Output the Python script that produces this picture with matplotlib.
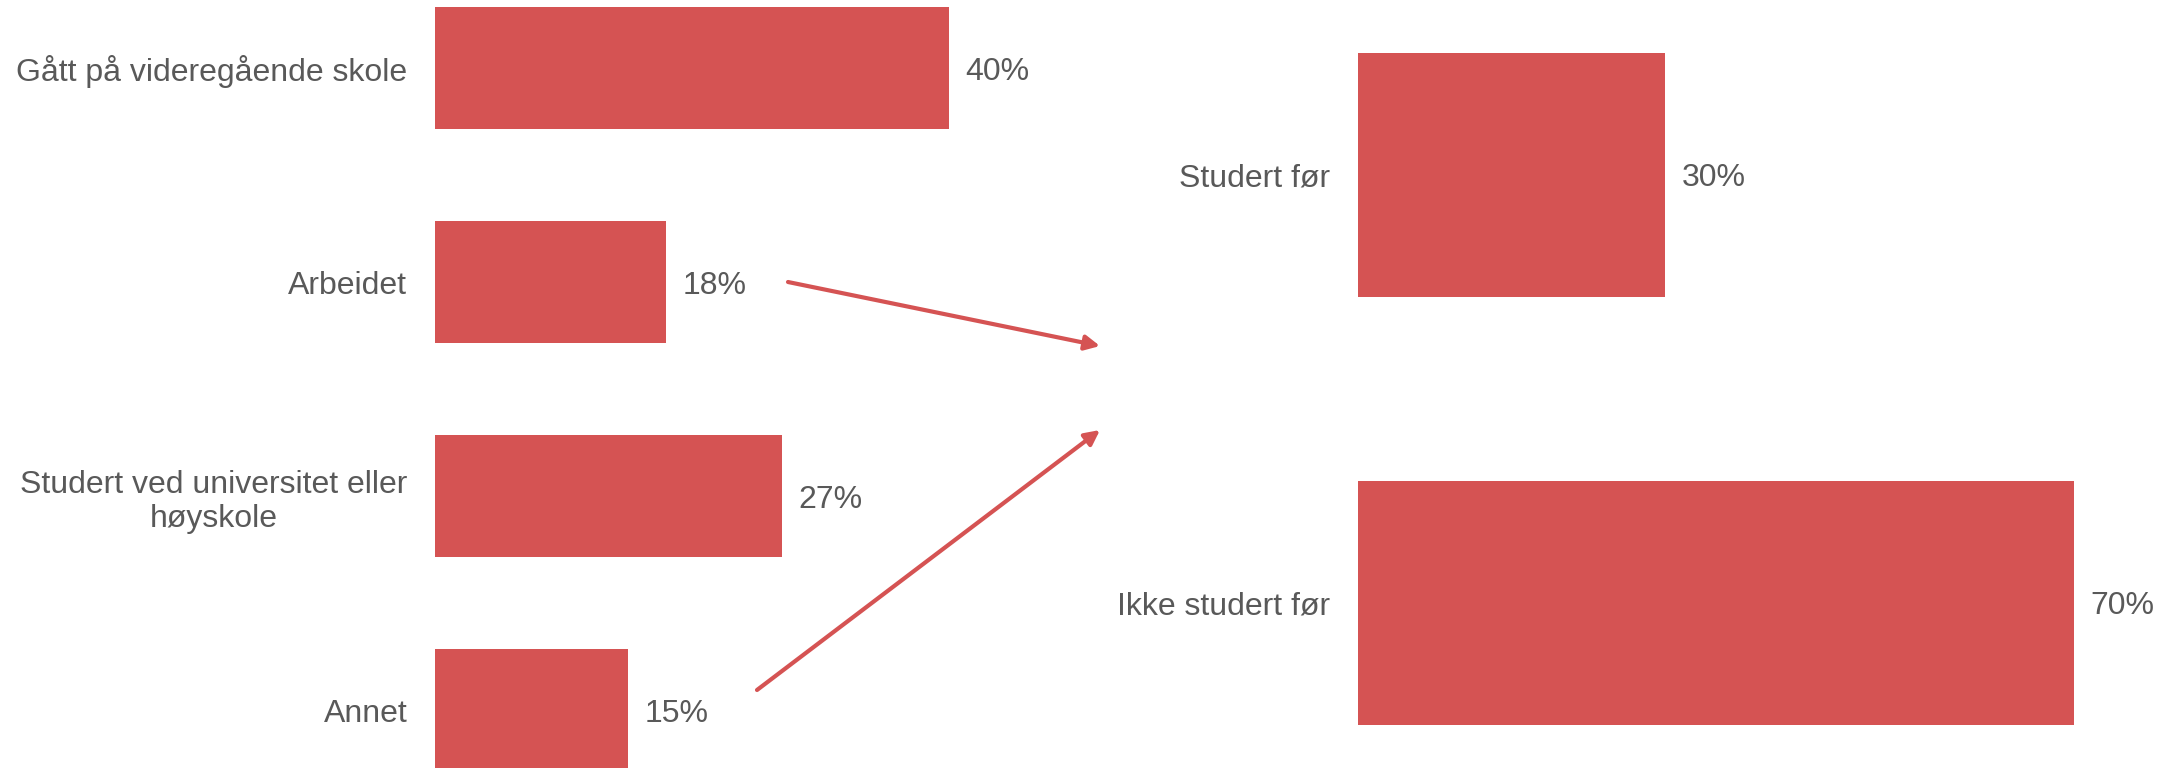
import matplotlib.pyplot as plt
from matplotlib.patches import FancyArrowPatch

# data
left_cats = ['Gått på videregående skole', 'Arbeidet',
             'Studert ved universitet eller\nhøyskole', 'Annet']
left_vals = [40, 18, 27, 15]
right_cats = ['Studert før', 'Ikke studert før']
right_vals = [30, 70]

bar_color = '#D55353'
text_color = '#595959'
fs = 23
plt.rcParams['font.family'] = ['Liberation Sans', 'DejaVu Sans']

W, H = 2178, 768
fig = plt.figure(figsize=(W / 100, H / 100), dpi=100)

# left panel: bar start at 435px, 40% -> 514px
ax1 = fig.add_axes([435 / W, 0, 514 / W, 1])
b1 = ax1.barh(range(len(left_vals)), left_vals, height=0.57, color=bar_color)
ax1.set_xlim(0, 40)
ax1.set_ylim(3.271, -0.318)
ax1.set_yticks(range(len(left_cats)))
ax1.set_yticklabels(left_cats)
t1 = ax1.bar_label(b1, labels=[f'{v}%' for v in left_vals], padding=12,
                   fontsize=fs, color=text_color)

# right panel: bar start at 1358px, 70% -> 716px
ax2 = fig.add_axes([1358 / W, 0, 716 / W, 1])
b2 = ax2.barh(range(len(right_vals)), right_vals, height=0.571, color=bar_color)
ax2.set_xlim(0, 70)
ax2.set_ylim(1.386, -0.409)
ax2.set_yticks(range(len(right_cats)))
ax2.set_yticklabels(right_cats)
t2 = ax2.bar_label(b2, labels=[f'{v}%' for v in right_vals], padding=12,
                   fontsize=fs, color=text_color)

for t in t1 + t2:
    t.set_va('center_baseline')

for ax in (ax1, ax2):
    for s in ax.spines.values():
        s.set_visible(False)
    ax.set_xticks([])
    ax.tick_params(axis='y', length=0, pad=20, labelsize=fs, labelcolor=text_color)
    for lbl in ax.get_yticklabels():
        lbl.set_multialignment('center')
    ax.patch.set_alpha(0)

# arrows between panels
arrow = dict(arrowstyle='-|>', color=bar_color, lw=3, mutation_scale=22,
             shrinkA=0, shrinkB=0)
fig.add_artist(FancyArrowPatch((788 / W, 1 - 282 / H), (1100 / W, 1 - 346 / H),
                               transform=fig.transFigure, **arrow))
fig.add_artist(FancyArrowPatch((757 / W, 1 - 690 / H), (1100 / W, 1 - 430 / H),
                               transform=fig.transFigure, **arrow))

fig.savefig('out.png', dpi=100)
